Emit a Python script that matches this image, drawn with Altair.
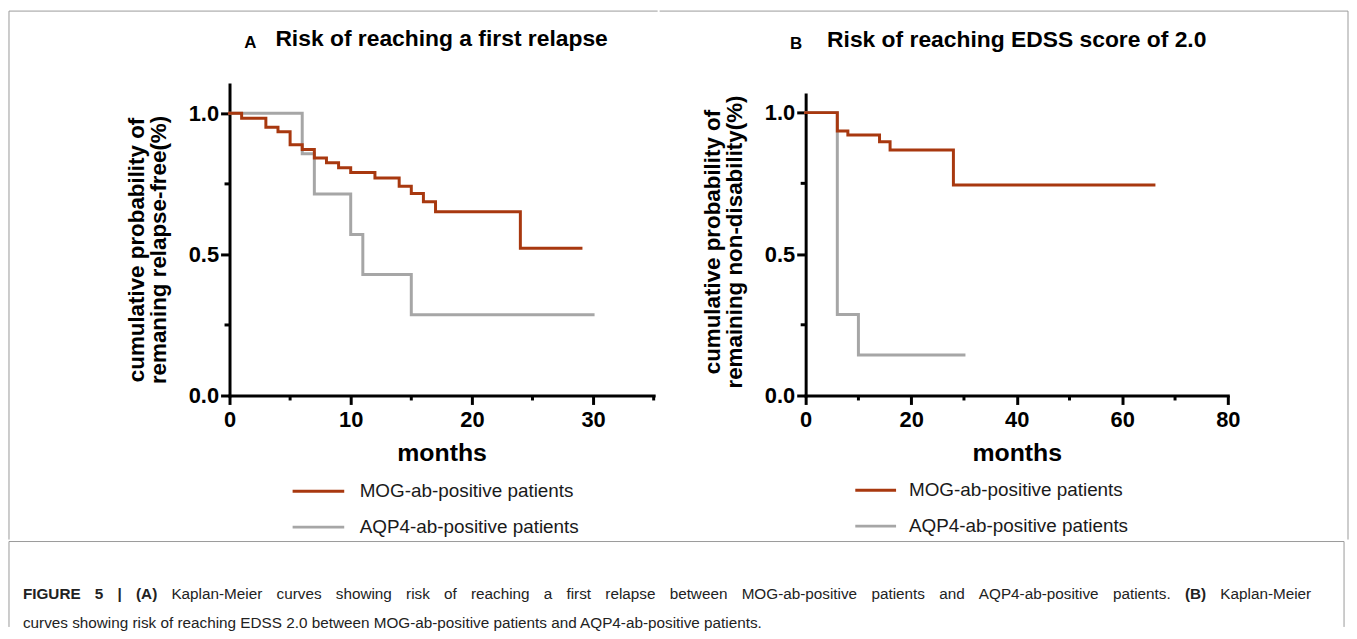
import altair as alt
import pandas as pd

# ---------------- data ----------------
groups = ["MOG-ab-positive patients", "AQP4-ab-positive patients"]
colors = ["#A8380F", "#A6A6A6"]

# Panel A: risk of reaching a first relapse
a_mog_month = [0, 1, 3, 4, 5, 6, 7, 8, 9, 10, 12, 14, 15, 16, 17, 24, 29]
a_mog_prob = [1.0, 0.983, 0.951, 0.935, 0.889, 0.872, 0.842, 0.825, 0.807, 0.790,
              0.771, 0.742, 0.716, 0.687, 0.651, 0.522, 0.522]
a_aqp_month = [0, 6, 7, 10, 11, 15, 30]
a_aqp_prob = [1.0, 0.857, 0.714, 0.571, 0.429, 0.286, 0.286]

# Panel B: risk of reaching EDSS score of 2.0
b_mog_month = [0, 6, 8, 14, 16, 28, 66]
b_mog_prob = [1.0, 0.935, 0.921, 0.897, 0.868, 0.744, 0.744]
b_aqp_month = [0, 6, 10, 30]
b_aqp_prob = [1.0, 0.286, 0.143, 0.143]

a_x_major = [0, 10, 20, 30]
a_x_minor = [5, 15, 25, 35]
b_x_major = [0, 20, 40, 60, 80]
b_x_minor = [10, 30, 50, 70]
y_major = [0.0, 0.5, 1.0]
y_minor = [0.25, 0.75]

a_title = "Risk of reaching a first relapse"
b_title = "Risk of reaching EDSS score of 2.0"
a_ytitle = ["cumulative probability of", "remaning relapse-free(%)"]
b_ytitle = ["cumulative probability of", "remaining non-disability(%)"]
x_title = "months"

caption_line1 = [  # (word, bold) -- a justified line
    ("FIGURE", True), ("5", True), ("|", True), ("(A)", True),
    ("Kaplan-Meier", False), ("curves", False), ("showing", False), ("risk", False),
    ("of", False), ("reaching", False), ("a", False), ("first", False),
    ("relapse", False), ("between", False), ("MOG-ab-positive", False),
    ("patients", False), ("and", False), ("AQP4-ab-positive", False),
    ("patients.", False), ("(B)", True), ("Kaplan-Meier", False),
]
caption_line2 = ("curves showing risk of reaching EDSS 2.0 between MOG-ab-positive "
                 "patients and AQP4-ab-positive patients.")

# ---------------- styling ----------------
FONT = "Liberation Sans"
FRAME = "#9a9a9a"
H = 313  # common plot height (both plot areas start at the same top)

# Arial / Liberation Sans advance widths (per 1000 em), used to justify line 1
REG = dict(zip(" ()-.|0123456789", [278, 333, 333, 333, 278, 260] + [556] * 10))
REG.update(dict(zip("ABCDEFGHIJKLMNOPQRSTUVWXYZ",
                    [667, 667, 722, 722, 667, 611, 778, 722, 278, 500, 667, 556, 833,
                     722, 778, 667, 778, 722, 667, 611, 722, 667, 944, 667, 667, 611])))
REG.update(dict(zip("abcdefghijklmnopqrstuvwxyz",
                    [556, 556, 500, 556, 556, 278, 556, 556, 222, 222, 500, 222, 833,
                     556, 556, 556, 556, 333, 500, 278, 556, 500, 722, 500, 500, 500])))
BOLD = {" ": 278, "(": 333, ")": 333, "|": 280, "5": 556, "A": 722, "B": 722,
        "E": 667, "F": 611, "G": 778, "I": 278, "R": 722, "U": 722}


def text_width(s, bold, size):
    table = BOLD if bold else REG
    return sum(table.get(ch, 556) for ch in s) * size / 1000.0


def panel(mog_t, mog_s, aqp_t, aqp_s, xmax, ymax, yrange, w, xmaj, xmin,
          title, title_offset, ytitle, ytitle_y, letter, letter_xy,
          legend_xy, symbol_path, label_offset, frame):
    df = pd.DataFrame({
        "month": aqp_t + mog_t,
        "prob": aqp_s + mog_s,
        "group": [groups[1]] * len(aqp_t) + [groups[0]] * len(mog_t),
    })
    xs = alt.Scale(domain=[0, xmax], nice=False, zero=True)
    ys = alt.Scale(domain=[0, ymax], nice=False, zero=True, range=yrange)
    xaxis = alt.Axis(values=xmaj, format="d", title=x_title, grid=False,
                     labelFont=FONT, labelFontSize=22, labelFontWeight="bold",
                     labelColor="black", labelPadding=5, labelFlush=False,
                     tickSize=9, tickWidth=3, tickColor="black",
                     domainWidth=3, domainColor="black", domainCap="square",
                     titleFont=FONT, titleFontSize=25, titleFontWeight="bold",
                     titleColor="black", titlePadding=10)
    yaxis = alt.Axis(values=y_major, format=".1f", title=ytitle, grid=False,
                     labelFont=FONT, labelFontSize=22, labelFontWeight="bold",
                     labelColor="black", labelPadding=2, labelFlush=False,
                     tickSize=9, tickWidth=3, tickColor="black",
                     domainWidth=3, domainColor="black", domainCap="square",
                     titleFont=FONT, titleFontSize=22.5, titleFontWeight="bold",
                     titleColor="black", titlePadding=18, titleLineHeight=22,
                     titleY=ytitle_y)
    legend = alt.Legend(title=None, orient="none", legendX=legend_xy[0],
                        legendY=legend_xy[1], symbolType=symbol_path,
                        symbolSize=300, symbolStrokeWidth=3, padding=0,
                        labelFont=FONT, labelFontSize=19, labelColor="#1a1a1a",
                        labelOffset=label_offset, rowPadding=15, labelLimit=500)
    color = alt.Color("group:N", scale=alt.Scale(domain=groups, range=colors),
                      legend=legend)
    x = alt.X("month:Q", scale=xs, axis=xaxis)
    y = alt.Y("prob:Q", scale=ys, axis=yaxis)

    base = alt.Chart(df)
    gray = base.transform_filter(alt.datum.group == groups[1]).mark_line(
        interpolate="step-after", strokeWidth=3, strokeCap="square"
    ).encode(x=x, y=y, color=color)
    red = base.transform_filter(alt.datum.group == groups[0]).mark_line(
        interpolate="step-after", strokeWidth=3, strokeCap="square"
    ).encode(x=x, y=y, color=color)

    xminor = alt.Chart(pd.DataFrame({"month": xmin})).mark_rule(
        strokeWidth=3, color="black"
    ).encode(x=x, y=alt.value(H), y2=alt.value(H + 5))
    yminor = alt.Chart(pd.DataFrame({"prob": y_minor})).mark_rule(
        strokeWidth=3, color="black"
    ).encode(y=y, x=alt.value(-5), x2=alt.value(0))

    letter_mark = alt.Chart(pd.DataFrame({"t": [letter]})).mark_text(
        font=FONT, fontSize=17, fontWeight="bold", color="black",
        align="center", baseline="middle"
    ).encode(text="t:N", x=alt.value(letter_xy[0]), y=alt.value(letter_xy[1]))

    layers = [gray, red, xminor, yminor, letter_mark]
    # frame decoration around the figure
    for (x1, y1, x2, y2) in frame:
        layers.append(
            alt.Chart(pd.DataFrame({"f": [0]})).mark_rule(
                strokeWidth=1, color=FRAME
            ).encode(x=alt.value(x1), x2=alt.value(x2),
                     y=alt.value(y1), y2=alt.value(y2))
        )

    return alt.layer(*layers).properties(
        width=w, height=H,
        title=alt.Title(title, font=FONT, fontSize=23, fontWeight="bold",
                        color="black", anchor="middle", offset=title_offset),
    )


A = panel(a_mog_month, a_mog_prob, a_aqp_month, a_aqp_prob,
          xmax=35, ymax=1.102, yrange=[H, 0], w=427, xmaj=a_x_major, xmin=a_x_minor,
          title=a_title, title_offset=-41, ytitle=a_ytitle, ytitle_y=166,
          letter="A", letter_xy=(21, -41.5), legend_xy=(79, 399),
          symbol_path="M-3,0H3", label_offset=31,
          frame=[(-222, -74, 431, -74), (-222, -74, -222, 458)])

B = panel(b_mog_month, b_mog_prob, b_aqp_month, b_aqp_prob,
          xmax=80, ymax=1.064, yrange=[H, 10], w=425, xmaj=b_x_major, xmin=b_x_minor,
          title=b_title, title_offset=-42, ytitle=b_ytitle, ytitle_y=158,
          letter="B", letter_xy=(-9.5, -40.5), legend_xy=(60, 398),
          symbol_path="M-2.37,0H2.37", label_offset=23,
          frame=[(-147, -74, 546, -74), (546, -74, 546, 458)])

top = alt.hconcat(A, B, spacing=0).resolve_scale(color="independent")

# ---------------- caption panel (origin aligned with panel A's plot origin) ----
CW, CH = 1122, 86
CAP_SIZE = 15.4
CAP_LEFT, CAP_RIGHT = -208, 1089          # justified line extent
LINE1_Y, LINE2_Y = 53, 82

widths = [text_width(w_, b_, CAP_SIZE) for w_, b_ in caption_line1]
gap = (CAP_RIGHT - CAP_LEFT - sum(widths)) / (len(caption_line1) - 1)
xpos, cur = [], CAP_LEFT
for wd in widths:
    xpos.append(cur)
    cur += wd + gap
words = pd.DataFrame({
    "word": [w_ for w_, _ in caption_line1] + [caption_line2],
    "bold": [b_ for _, b_ in caption_line1] + [False],
    "px": xpos + [CAP_LEFT],
    "line": [1] * len(caption_line1) + [2],
})

cap_layers = []
for is_bold in (True, False):
    cap_layers.append(
        alt.Chart(words).transform_filter(alt.datum.bold == is_bold).mark_text(
            font=FONT, fontSize=CAP_SIZE, fontWeight="bold" if is_bold else "normal",
            color="#222222", align="left", baseline="middle"
        ).encode(
            text="word:N",
            x=alt.X("px:Q", scale=None),
            y=alt.Y("line:Q", scale=alt.Scale(domain=[1, 2],
                                               range=[LINE1_Y, LINE2_Y]), axis=None),
        )
    )
for (x1, y1, x2, y2) in [(-222, 0, CW, 0), (-222, 0, -222, CH), (CW, 0, CW, CH)]:
    cap_layers.append(
        alt.Chart(pd.DataFrame({"f": [0]})).mark_rule(strokeWidth=1, color=FRAME)
        .encode(x=alt.value(x1), x2=alt.value(x2), y=alt.value(y1), y2=alt.value(y2))
    )
caption = alt.layer(*cap_layers).properties(width=CW, height=CH)

chart = alt.vconcat(top, caption, spacing=0).properties(
    padding={"left": 0, "top": 0, "right": 0, "bottom": 0},
    background="white",
).configure_view(stroke="transparent", strokeWidth=0)

chart.save("out.html", embed_options={"renderer": "svg", "actions": False})
